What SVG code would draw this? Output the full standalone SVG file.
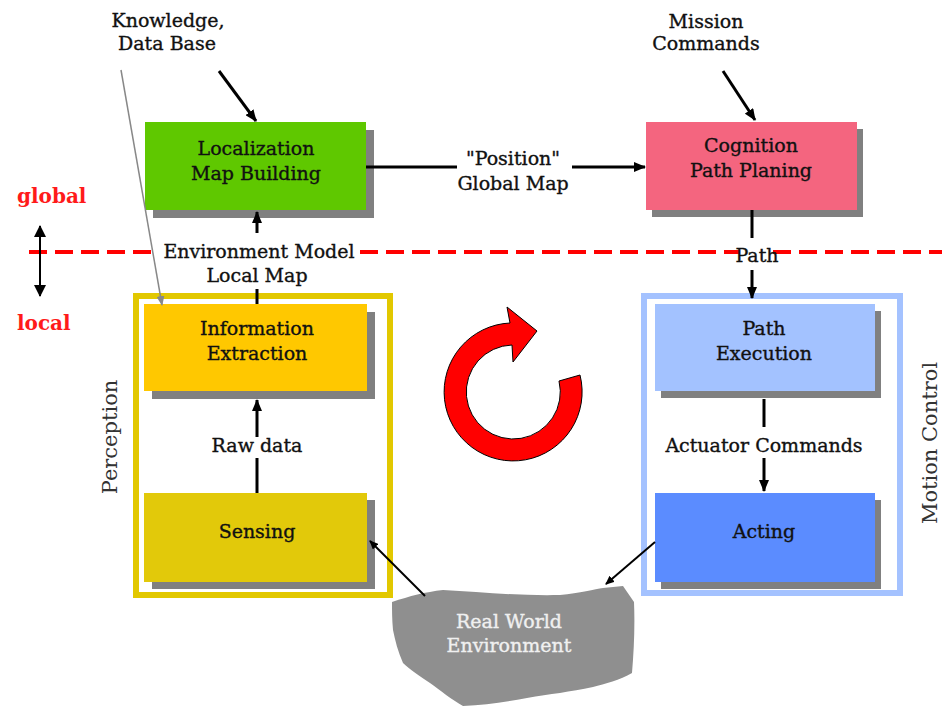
<svg xmlns="http://www.w3.org/2000/svg" width="942" height="706" viewBox="0 0 942 706">
<defs>
<marker id="ah" markerUnits="userSpaceOnUse" markerWidth="12" markerHeight="10" refX="11" refY="5" orient="auto"><path d="M0,0 L12,5 L0,10 z" fill="#000"/></marker>
<marker id="ahs" markerUnits="userSpaceOnUse" markerWidth="9" markerHeight="8" refX="8" refY="4" orient="auto"><path d="M0,0 L9,4 L0,8 z" fill="#000"/></marker>
<marker id="ahg" markerUnits="userSpaceOnUse" markerWidth="10" markerHeight="8" refX="9" refY="4" orient="auto"><path d="M0,0 L10,4 L0,8 z" fill="#888"/></marker>
<marker id="ahd" markerUnits="userSpaceOnUse" markerWidth="12" markerHeight="12" refX="11" refY="6" orient="auto"><path d="M0,0 L12,6 L0,12 z" fill="#000"/></marker>
<marker id="ahd0" markerUnits="userSpaceOnUse" markerWidth="12" markerHeight="12" refX="1" refY="6" orient="auto"><path d="M12,0 L0,6 L12,12 z" fill="#000"/></marker>
</defs>
<style>
text{font-family:"DejaVu Serif","Liberation Serif",serif;font-size:19px;fill:#111;stroke:#111;stroke-width:0.35;text-anchor:middle}
.sh{fill:#808080}
.c{stroke:#000;stroke-width:3;fill:none}
.ct{stroke:#000;stroke-width:2;fill:none}
.dash{stroke:#ff0000;stroke-width:4;stroke-dasharray:18 8;fill:none}
.red{fill:#ff1a1a;stroke:none;font-weight:bold;font-size:20px;text-anchor:start}
.side{font-size:21px;fill:#333;stroke:none}
.wt{fill:#f0f0f0;stroke:#f0f0f0}
</style>
<rect width="942" height="706" fill="#fff"/>

<g id="divider">
<line class="dash" x1="29" y1="252" x2="155" y2="252"/>
<line class="dash" x1="360" y1="252" x2="739" y2="252"/>
<line class="dash" x1="773" y1="252" x2="942" y2="252"/>
<text class="red" x="17" y="203">global</text>
<text class="red" x="17" y="330">local</text>
<line class="ct" x1="40" y1="226" x2="40" y2="296" marker-start="url(#ahd0)" marker-end="url(#ahd)"/>
</g>

<g id="perception-frame">
<rect x="136" y="296" width="254" height="299" fill="none" stroke="#e2c800" stroke-width="6"/>
<text class="side" transform="translate(117,437) rotate(-90)" font-size="22">Perception</text>
</g>
<g id="motion-frame">
<rect x="644" y="296" width="256" height="297" fill="none" stroke="#a4c2ff" stroke-width="6"/>
<text class="side" transform="translate(937,443) rotate(-90)">Motion Control</text>
</g>

<g id="localization">
<rect class="sh" x="153" y="130" width="221" height="88"/>
<rect x="145" y="122" width="221" height="88" fill="#5fc800"/>
<text x="256" y="155">Localization</text>
<text x="256" y="180">Map Building</text>
</g>
<g id="cognition">
<rect class="sh" x="652" y="129" width="211" height="88"/>
<rect x="646" y="122" width="211" height="88" fill="#f4657f"/>
<text x="751" y="152">Cognition</text>
<text x="751" y="177">Path Planing</text>
</g>
<g id="information-extraction">
<rect class="sh" x="152" y="312" width="223" height="87"/>
<rect x="144" y="304" width="223" height="87" fill="#ffc800"/>
<text x="257" y="335">Information</text>
<text x="257" y="360">Extraction</text>
</g>
<g id="sensing">
<rect class="sh" x="152" y="500" width="223" height="89"/>
<rect x="144" y="493" width="223" height="89" fill="#e2c90a"/>
<text x="257" y="538">Sensing</text>
</g>
<g id="path-execution">
<rect class="sh" x="661" y="311" width="220" height="87"/>
<rect x="655" y="304" width="220" height="87" fill="#a3c2ff"/>
<text x="764" y="335">Path</text>
<text x="764" y="360">Execution</text>
</g>
<g id="acting">
<rect class="sh" x="661" y="500" width="220" height="89"/>
<rect x="655" y="493" width="220" height="89" fill="#5b8cff"/>
<text x="764" y="538">Acting</text>
</g>
<g id="real-world">
<path d="M392,602 C410,596 425,592 443,590 C480,592 520,596 560,595 C580,593 595,589 603,588 L623,586 L634,602 C635,625 634,650 632,673 C620,680 605,684 593,687 C570,692 550,694 527,698 C505,702 485,705 463,706 C452,700 440,690 430,683 C420,676 410,670 403,663 C398,652 395,640 393,630 C392,620 392,610 392,602 Z" fill="#8f8f8f"/>
<text class="wt" x="509" y="628">Real World</text>
<text class="wt" x="509" y="652">Environment</text>
</g>

<g id="cycle">
<path d="M580,375 A69,69 0 1 1 510,323 L507,307 L537,331 L513,362 L512,345 A47,47 0 1 0 559,381 Z" fill="#ff0000" stroke="#000" stroke-width="1"/>
</g>

<g id="labels">
<text x="168" y="27">Knowledge,</text>
<text x="167" y="50">Data Base</text>
<text x="706" y="28">Mission</text>
<text x="706" y="50">Commands</text>
<text x="513" y="165">"Position"</text>
<text x="513" y="190">Global Map</text>
<text x="757" y="262">Path</text>
<text x="259" y="258">Environment Model</text>
<text x="257" y="282">Local Map</text>
<text x="257" y="452">Raw data</text>
<text x="764" y="452">Actuator Commands</text>
</g>

<g id="connectors">
<line class="c" x1="219" y1="71" x2="256" y2="121" marker-end="url(#ah)"/>
<line class="c" x1="723" y1="71" x2="755" y2="120" marker-end="url(#ah)"/>
<line class="c" x1="366" y1="167" x2="457" y2="167"/>
<line class="c" x1="572" y1="167" x2="645" y2="167" marker-end="url(#ah)"/>
<line class="c" x1="752" y1="210" x2="752" y2="238"/>
<line class="c" x1="752" y1="270" x2="752" y2="298" marker-end="url(#ah)"/>
<line class="c" x1="257" y1="304" x2="257" y2="289"/>
<line class="c" x1="257" y1="233" x2="257" y2="212" marker-end="url(#ah)"/>
<line class="c" x1="257" y1="493" x2="257" y2="458"/>
<line class="c" x1="257" y1="437" x2="257" y2="400" marker-end="url(#ah)"/>
<line class="c" x1="764" y1="399" x2="764" y2="427"/>
<line class="c" x1="764" y1="458" x2="764" y2="491" marker-end="url(#ah)"/>
<line class="ct" x1="425" y1="596" x2="370" y2="541" marker-end="url(#ahs)"/>
<line class="ct" x1="655" y1="542" x2="606" y2="584" marker-end="url(#ahs)"/>
<line x1="121" y1="70" x2="162" y2="305" stroke="#888" stroke-width="1.5" marker-end="url(#ahg)"/>
</g>
</svg>
